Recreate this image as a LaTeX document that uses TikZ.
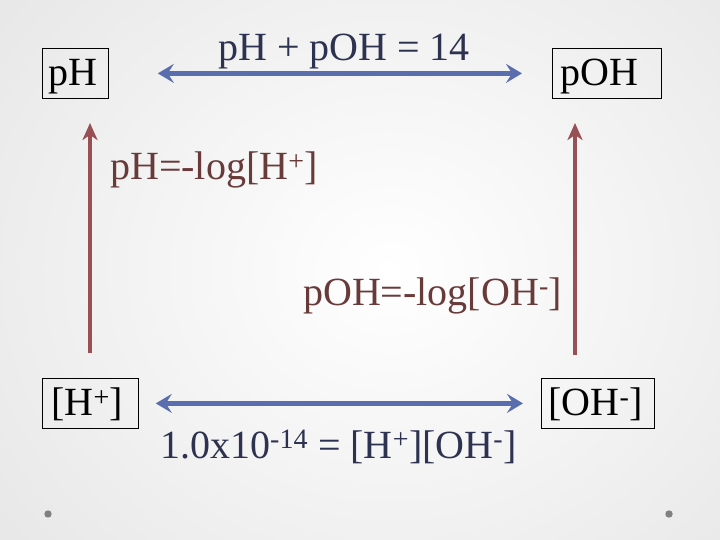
\documentclass[tikz,border=0pt]{standalone}
\usepackage{fontspec}
\setmainfont{Liberation Serif}
\usetikzlibrary{arrows.meta}
\definecolor{bluearr}{RGB}{90,110,175}
\definecolor{redarr}{RGB}{152,80,84}
\definecolor{navytxt}{RGB}{45,50,80}
\definecolor{browntxt}{RGB}{105,58,58}
\definecolor{dotgray}{RGB}{128,128,128}
\tikzset{
  big/.style={font=\fontsize{40}{48}\selectfont},
  boxnode/.style={big, draw=black, line width=0.8pt, rectangle, anchor=north west,
    minimum height=50pt, inner ysep=5pt, text height=32pt, text depth=8pt, align=left},
  lbl/.style={big, anchor=base west, inner sep=0pt},
  bluearrow/.style={draw=bluearr, line width=5pt,
    {Stealth[length=16pt,width=19pt,inset=6pt]}-{Stealth[length=16pt,width=19pt,inset=6pt]}},
  redarrow/.style={draw=redarr, line width=4pt, -{Stealth[length=17pt,width=15pt,inset=5pt]}},
  gdot/.style={fill=dotgray, draw=none}
}
\begin{document}
\begin{tikzpicture}[x=1pt,y=-1pt]
\useasboundingbox (0,0) rectangle (720,540);
\shade[inner color=white, outer color=black!11] (-200,-250) rectangle (980,790);
% boxes
\node[boxnode, inner xsep=6pt, text width=54pt] (pH) at (42,48) {pH};
\node[boxnode, inner xsep=8pt, text width=93pt] (pOH) at (552,48) {pOH};
\node[boxnode, inner xsep=9pt, text width=78pt] (Hp) at (42,378) {[H\textsuperscript{+}]};
\node[boxnode, inner xsep=7pt, text width=99pt] (OHm) at (541,378) {[OH\textsuperscript{-}]};
% labels
\node[lbl, text=navytxt] (top) at (218,61) {pH + pOH = 14};
\node[lbl, text=browntxt] (logH) at (110,180) {pH=-log[H\textsuperscript{+}]};
\node[lbl, text=browntxt] (logOH) at (303,305) {pOH=-log[OH\textsuperscript{-}]};
\node[lbl, text=navytxt] (kw) at (160,458) {1.0x10\textsuperscript{-14} = [H\textsuperscript{+}][OH\textsuperscript{-}]};
% blue arrows
\draw[bluearrow, shorten <=49pt, shorten >=30pt] (pH.east) -- (pOH.west);
\draw[bluearrow, shorten <=17pt, shorten >=18pt] (Hp.east) -- (OHm.west);
% red arrows
\coordinate (r1s) at (90,353);
\coordinate (r1e) at (90,123);
\coordinate (r2s) at (575,355);
\coordinate (r2e) at (575,123);
\draw[redarrow] (r1s) -- (r1e);
\draw[redarrow] (r2s) -- (r2e);
% dots
\fill[gdot] (48,514) circle (3.7);
\fill[gdot] (669,514) circle (3.7);
\end{tikzpicture}
\end{document}
